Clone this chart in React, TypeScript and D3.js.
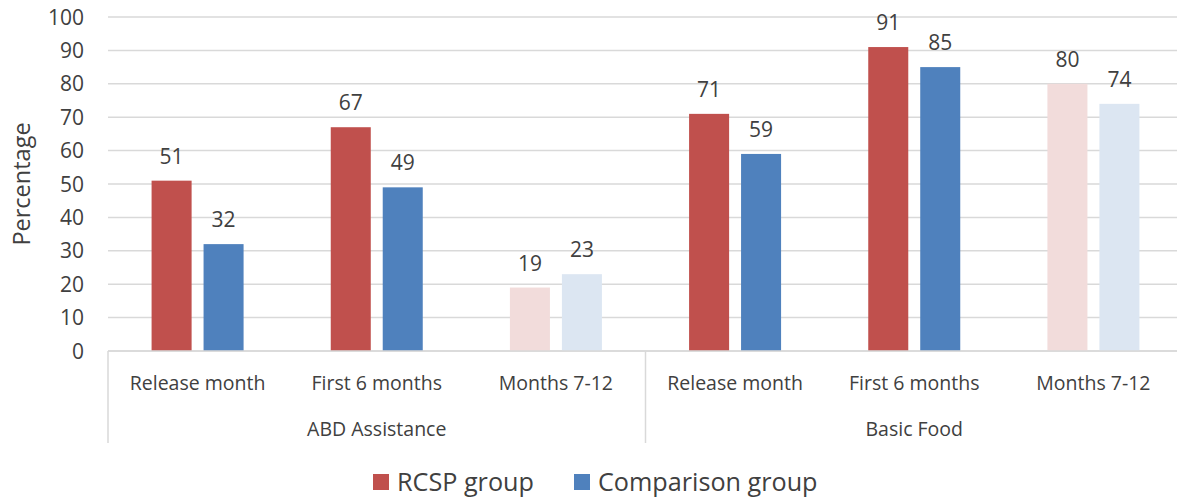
import React from "react";
import * as d3 from "d3";

const groups = ["ABD Assistance", "Basic Food"];
const periods = ["Release month", "First 6 months", "Months 7-12"];
const seriesNames = ["RCSP group", "Comparison group"];
const rcspValues = [51, 67, 19, 71, 91, 80];
const comparisonValues = [32, 49, 23, 59, 85, 74];
const yTicks = [0, 10, 20, 30, 40, 50, 60, 70, 80, 90, 100];

const width = 1177;
const height = 500;
const margin = { top: 17, right: -6, bottom: 149, left: 108 };

const colors = ["#C0504D", "#4F81BD"];
const fadedColors = ["#F2DCDB", "#DCE6F2"];
const textColor = "#404040";
const gridColor = "#D9D9D9";
const font = "'Open Sans', 'Noto Sans', sans-serif";

const App = () => {
  const x0 = margin.left;
  const x1 = width - margin.right;
  const y0 = height - margin.bottom;

  const y = d3.scaleLinear().domain([0, 100]).range([y0, margin.top]);

  // one band per group, then one per period inside it
  const groupScale = d3.scaleBand().domain(groups).range([x0, x1]);
  const periodScale = d3
    .scaleBand()
    .domain(periods)
    .range([0, groupScale.bandwidth()]);
  const seriesScale = d3
    .scaleBand()
    .domain(seriesNames)
    .range([-46, 46])
    .paddingInner(0.23);

  const rows = [];
  groups.forEach((g, gi) => {
    periods.forEach((p, pi) => {
      const k = gi * periods.length + pi;
      rows.push({ group: g, period: p, values: [rcspValues[k], comparisonValues[k]], faded: p === "Months 7-12" });
    });
  });

  return (
    <svg width={width} height={height} style={{ display: "block", position: "absolute", left: 0, top: 0 }} fontFamily={font}>
      <rect width={width} height={height} fill="#fff" />
      {/* gridlines */}
      {yTicks.map((t) => (
        <line key={t} x1={x0} x2={x1} y1={y(t)} y2={y(t)} stroke={gridColor} strokeWidth={1.5} />
      ))}
      {yTicks.map((t) => (
        <text key={"l" + t} x={84} y={y(t)} dy="0.36em" textAnchor="end" fontSize={21} fill={textColor}>
          {t}
        </text>
      ))}
      <text
        transform={`translate(30,${(y(0) + y(100)) / 2}) rotate(-90)`}
        textAnchor="middle"
        fontSize={23.5}
        fill={textColor}
      >
        Percentage
      </text>

      {/* bars */}
      {rows.map((r, i) => {
        const cx = groupScale(r.group) + periodScale(r.period) + periodScale.bandwidth() / 2;
        return (
          <g key={i}>
            {r.values.map((v, si) => {
              const bx = cx + seriesScale(seriesNames[si]);
              return (
                <g key={si}>
                  <rect
                    x={bx}
                    y={y(v)}
                    width={seriesScale.bandwidth()}
                    height={y(0) - y(v)}
                    fill={r.faded ? fadedColors[si] : colors[si]}
                  />
                  <text
                    x={bx + seriesScale.bandwidth() / 2}
                    y={y(v) - 17}
                    textAnchor="middle"
                    fontSize={21}
                    fill={textColor}
                  >
                    {v}
                  </text>
                </g>
              );
            })}
            <text x={cx} y={390} textAnchor="middle" fontSize={19.5} fill={textColor}>
              {r.period}
            </text>
          </g>
        );
      })}

      {/* category axis */}
      <line x1={x0} x2={x1} y1={y0} y2={y0} stroke={gridColor} strokeWidth={1.5} />
      {[x0, groupScale("Basic Food"), x1].map((sx, i) => (
        <line key={i} x1={sx} x2={sx} y1={y0} y2={443} stroke={gridColor} strokeWidth={1.5} />
      ))}
      {groups.map((g) => (
        <text key={g} x={groupScale(g) + groupScale.bandwidth() / 2} y={436} textAnchor="middle" fontSize={19.5} fill={textColor}>
          {g}
        </text>
      ))}

      {/* legend */}
      {seriesNames.map((s, i) => {
        const lx = [373, 574][i];
        return (
          <g key={s}>
            <rect x={lx} y={474} width={16} height={16} fill={colors[i]} />
            <text x={lx + 24} y={491} fontSize={25.2} fill={textColor}>
              {s}
            </text>
          </g>
        );
      })}
    </svg>
  );
};

export default App;
